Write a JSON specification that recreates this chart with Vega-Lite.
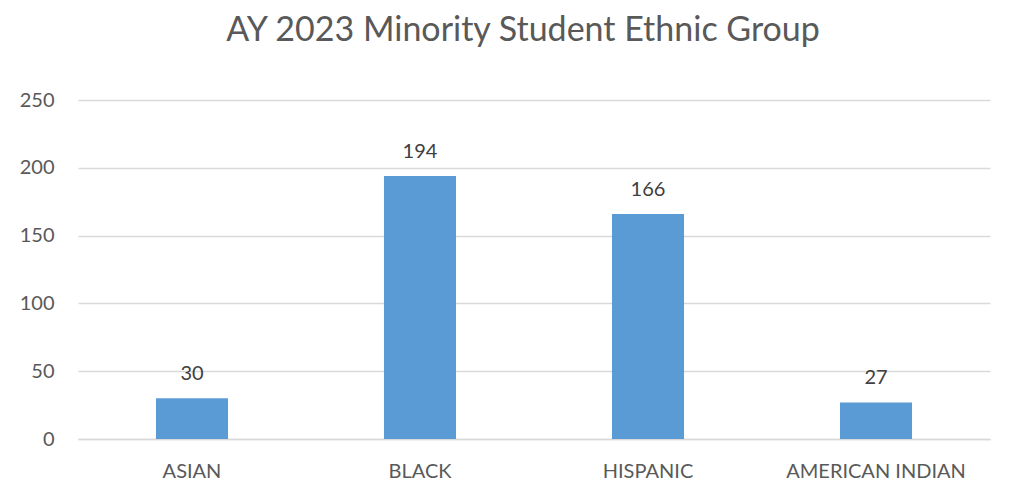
{
  "$schema": "https://vega.github.io/schema/vega-lite/v6.json",
  "autosize": {"type": "none"},
  "width": 912,
  "height": 339,
  "padding": {"left": 78, "top": 100, "right": 28, "bottom": 62},
  "background": "white",
  "title": {
    "text": "AY 2023 Minority Student Ethnic Group",
    "font": "Lato",
    "fontSize": 34,
    "fontWeight": "normal",
    "color": "#595959",
    "anchor": "middle",
    "offset": 42,
    "dx": -11
  },
  "config": {"view": {"stroke": null}},
  "data": {
    "values": [
      {"group": "ASIAN", "count": 30},
      {"group": "BLACK", "count": 194},
      {"group": "HISPANIC", "count": 166},
      {"group": "AMERICAN INDIAN", "count": 27}
    ]
  },
  "encoding": {
    "x": {
      "field": "group",
      "type": "nominal",
      "sort": null,
      "scale": {"paddingInner": 0.684, "paddingOuter": 0.342},
      "axis": {
        "title": null,
        "labelAngle": 0,
        "labelFont": "Lato",
        "labelFontSize": 20,
        "labelColor": "#595959",
        "labelPadding": 22,
        "ticks": false,
        "domain": true,
        "domainColor": "#d9d9d9",
        "domainWidth": 1.5
      }
    },
    "y": {
      "field": "count",
      "type": "quantitative",
      "scale": {"domain": [0, 250]},
      "axis": {
        "title": null,
        "values": [0, 50, 100, 150, 200, 250],
        "labelFont": "Lato",
        "labelFontSize": 20,
        "labelColor": "#595959",
        "labelPadding": 24,
        "ticks": false,
        "domain": false,
        "gridColor": "#d9d9d9",
        "gridWidth": 1.5
      }
    }
  },
  "layer": [
    {"mark": {"type": "bar", "color": "#5b9bd5"}},
    {
      "mark": {
        "type": "text",
        "font": "Lato",
        "fontSize": 20,
        "color": "#404040",
        "baseline": "alphabetic",
        "dy": -18
      },
      "encoding": {"text": {"field": "count", "type": "quantitative"}}
    }
  ]
}
